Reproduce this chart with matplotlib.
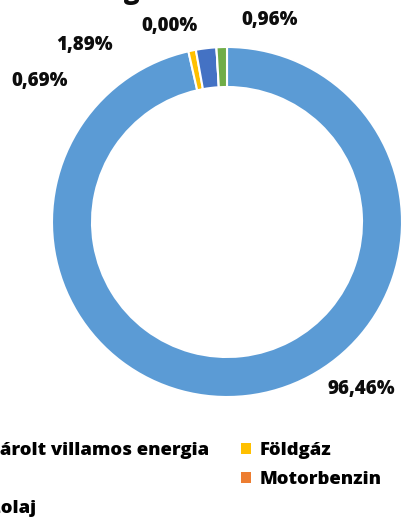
import matplotlib
matplotlib.use("Agg")
import matplotlib.pyplot as plt
from matplotlib.patches import Patch

plt.rcParams['font.family'] = ['Open Sans', 'DejaVu Sans']

# data
categories = ["Vásárolt villamos energia", "Földgáz", "PB", "Motorbenzin", "Gázolaj"]
shares = [96.46, 0.69, 1.89, 0.00, 0.96]
labels = ["96,46%", "0,69%", "1,89%", "0,00%", "0,96%"]
colors = ["#5B9BD5", "#FFC000", "#4472C4", "#ED7D31", "#70AD47"]

W, H = 401, 520
fig = plt.figure(figsize=(W / 100, H / 100), dpi=100)
ax = fig.add_axes([0, 0, 1, 1])

# donut, clockwise from 12 o'clock
cx, cy, r = 227, H - 222, 175
wedges, _ = ax.pie(shares, colors=colors, startangle=90, counterclock=False,
                   center=(cx, cy), radius=r, frame=True,
                   wedgeprops=dict(width=40, edgecolor='white', linewidth=1.5))
ax.set_xlim(0, W)
ax.set_ylim(0, H)
ax.set_aspect('equal')
ax.axis('off')

# label positions (pixel coords from top-left), as Excel placed them
label_pos = [(361, 389), (40, 81), (85, 45), (170, 26), (270, 20)]
for txt, (x, y) in zip(labels, label_pos):
    ax.text(x, H - y, txt, ha='center', va='center', fontsize=13.5,
            fontweight='heavy', color='#0d0d0d')

# title, mostly outside the cropped area
fig.text(0.158, 1.0 + 1 / H, "Energiafelhasználás", ha='left', va='baseline',
         fontsize=19, fontweight='heavy', color='#0d0d0d')

# legend, row-major like Excel
order = [0, 2, 4, 1, 3]
handles = [Patch(facecolor=colors[i], edgecolor='none') for i in order]
names = [categories[i] for i in order]
leg = fig.legend(handles, names, ncol=2, loc='upper left',
                 bbox_to_anchor=(-62 / W, 1 - 433 / H), frameon=False,
                 prop=dict(weight='heavy', size=13.3),
                 handlelength=0.55, handleheight=0.55, handletextpad=0.45,
                 columnspacing=1.75, labelspacing=0.65, borderpad=0)

fig.savefig("out.png", dpi=100)
